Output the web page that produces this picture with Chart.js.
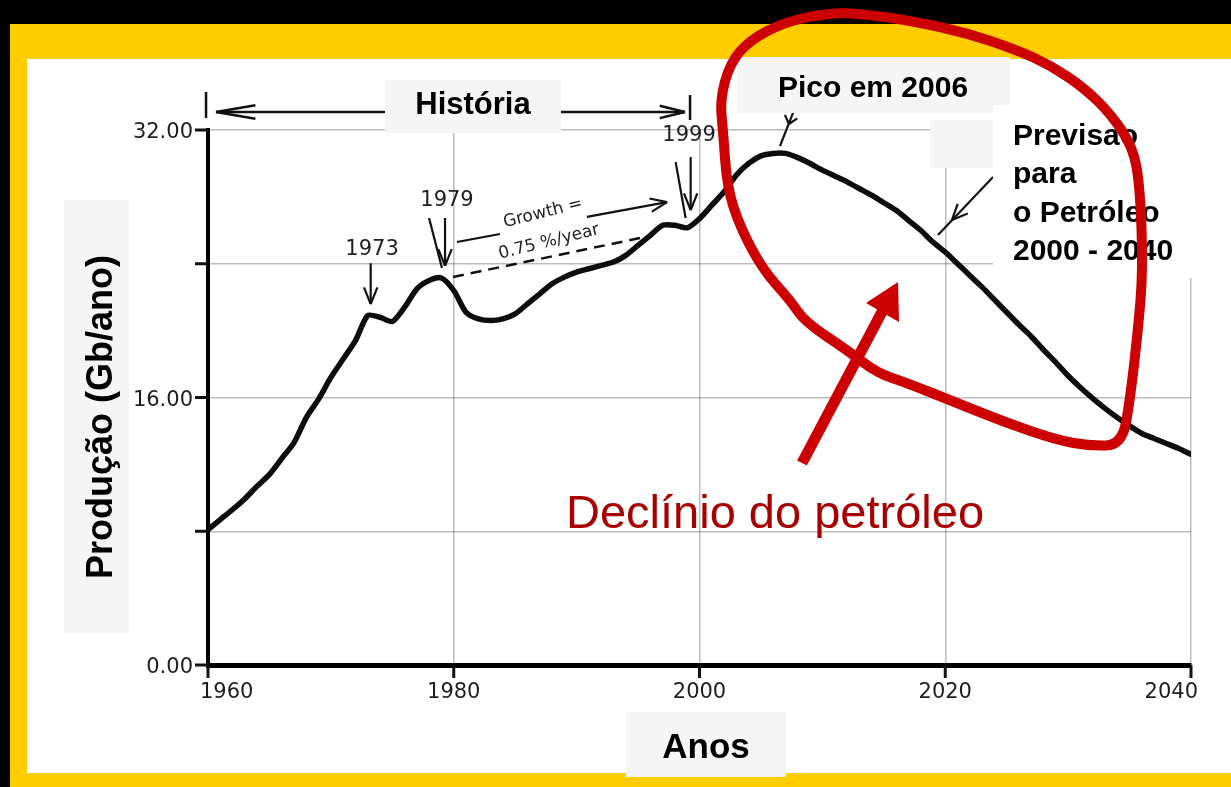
<!DOCTYPE html>
<html>
<head>
<meta charset="utf-8">
<script src="https://cdn.jsdelivr.net/npm/chart.js@4.4.1/dist/chart.umd.min.js"></script>
<style>
  html, body { margin: 0; padding: 0; background: #000; overflow: hidden; }
  canvas { display: block; }
</style>
</head>
<body>
<canvas id="oilChart" width="1231" height="787"></canvas>
<script>
// --- data ---
const years = [
  1960, 1961, 1962, 1963, 1964, 1965, 1966, 1967, 1968, 1969,
  1970, 1971, 1972, 1973, 1974, 1975, 1976, 1977, 1978, 1979,
  1980, 1981, 1982, 1983, 1984, 1985, 1986, 1987, 1988, 1989,
  1990, 1991, 1992, 1993, 1994, 1995, 1996, 1997, 1998, 1999,
  2000, 2001, 2002, 2003, 2004, 2005, 2006, 2007, 2008, 2009,
  2010, 2011, 2012, 2013, 2014, 2015, 2016, 2017, 2018, 2019,
  2020, 2021, 2022, 2023, 2024, 2025, 2026, 2027, 2028, 2029,
  2030, 2031, 2032, 2033, 2034, 2035, 2036, 2037, 2038, 2039,
  2040
];
const production = [
  8.1, 8.7, 9.3, 9.95, 10.7, 11.4, 12.35, 13.3, 14.8, 15.9,
  17.2, 18.3, 19.4, 20.9, 20.8, 20.55, 21.4, 22.5, 23.0, 23.15,
  22.4, 21.1, 20.7, 20.6, 20.7, 21.0, 21.6, 22.2, 22.8, 23.2,
  23.5, 23.7, 23.9, 24.1, 24.5, 25.1, 25.7, 26.3, 26.3, 26.15,
  26.7, 27.5, 28.3, 29.3, 30.0, 30.45, 30.6, 30.6, 30.35, 30.0,
  29.6, 29.25, 28.9, 28.5, 28.1, 27.65, 27.2, 26.6, 26.0, 25.3,
  24.7, 24.0, 23.3, 22.6, 21.85, 21.1, 20.35, 19.65, 18.85, 18.1,
  17.3, 16.6, 15.95, 15.35, 14.8, 14.3, 13.85, 13.55, 13.25, 12.95,
  12.6
];
const xTickYears = [1960, 1980, 2000, 2020, 2040];
const yTickValues = [0, 8, 16, 24, 32];
const yLabelledValues = [0, 16, 32];
const eventYears = ["1973", "1979", "1999"];
const growthText = ["Growth =", "0.75 %/year"];

// --- scan annotations, in data coordinates (year, Gb) ---
const eventLabelPos = [[1973.35, 24.82], [1979.45, 27.81], [1999.15, 31.64]];
const scanLines = [
  // [from, to, arrow head?]
  [[1973.24, 24.03], [1973.24, 21.59], true],
  [[1979.29, 26.74], [1979.29, 23.87], true],
  [[1977.99, 26.74], [1979.04, 23.75], false],
  [[1999.28, 30.38], [1999.28, 27.21], true],
  [[1998.06, 30.08], [1998.87, 26.74], false],
  [[1980.26, 25.30], [1983.76, 25.78], false],
  [[1990.84, 26.80], [1997.36, 27.69], true],
  [[2007.77, 33.32], [2006.55, 31.04], false],
  [[2023.89, 29.19], [2019.41, 25.72], false]
];
const growthDash = [[1979.94, 23.21], [1995.16, 25.54]];

const ctx = document.getElementById("oilChart").getContext("2d");

function line(c, a, b){ c.beginPath(); c.moveTo(a[0], a[1]); c.lineTo(b[0], b[1]); c.stroke(); }
function barbs(c, tip, from, len, ang){
  const a = Math.atan2(tip[1] - from[1], tip[0] - from[0]);
  for (const s of [-1, 1]) {
    c.beginPath();
    c.moveTo(tip[0], tip[1]);
    c.lineTo(tip[0] - len * Math.cos(a + s * ang), tip[1] - len * Math.sin(a + s * ang));
    c.stroke();
  }
}
function box(c, x, y, w, h, fill){ c.fillStyle = fill; c.fillRect(x, y, w, h); }

const slidePlugin = {
  id: "slide",
  beforeDraw(chart){
    const c = chart.ctx;
    c.save();
    box(c, 0, 0, 1231, 787, "#000");
    box(c, 10, 24, 1221, 763, "#ffcc00");
    box(c, 27, 59, 1204, 714, "#ffffff");
    c.restore();
  },
  afterDraw(chart){
    const c = chart.ctx, xs = chart.scales.x, ys = chart.scales.y;
    const P = (p) => [xs.getPixelForValue(p[0]), ys.getPixelForValue(p[1])];
    const area = chart.chartArea;
    c.save();

    // tick marks
    c.strokeStyle = "#111";
    c.lineWidth = 3;
    yTickValues.forEach(v => { const y = ys.getPixelForValue(v); line(c, [area.left - 13, y], [area.left, y]); });
    xTickYears.forEach(v => { const x = xs.getPixelForValue(v); line(c, [x, area.bottom], [x, area.bottom + 13]); });

    // tick labels
    c.fillStyle = "#1e1e1e";
    c.font = "21px 'DejaVu Sans'";
    c.textBaseline = "middle";
    c.textAlign = "right";
    yLabelledValues.forEach(v => c.fillText(v.toFixed(2), area.left - 15, ys.getPixelForValue(v) + 3));
    xTickYears.forEach((v, i) => {
      const x = xs.getPixelForValue(v);
      c.textAlign = i === 0 ? "left" : (i === xTickYears.length - 1 ? "right" : "center");
      c.fillText(String(v), i === 0 ? x - 8 : (i === xTickYears.length - 1 ? x + 7 : x), area.bottom + 28);
    });

    // history bracket (above the plot)
    c.strokeStyle = "#111";
    c.lineWidth = 2.5;
    line(c, P([1959.84, 34.27]), P([1959.84, 32.72]));
    line(c, P([1999.23, 34.09]), P([1999.23, 32.60]));
    line(c, P([1960.65, 33.08]), P([1998.82, 33.08]));
    barbs(c, P([1960.65, 33.08]), P([1974, 33.08]), 40, 0.17);
    barbs(c, P([1998.82, 33.08]), P([1990, 33.08]), 26, 0.24);

    // event arrows and growth marks
    c.lineWidth = 2.2;
    scanLines.forEach(([a, b, head]) => {
      const pa = P(a), pb = P(b);
      line(c, pa, pb);
      if (head) barbs(c, pb, pa, 18, 0.38);
    });
    // pico fork + forecast arrow head
    barbs(c, P([2007.28, 32.36]), P([2007.77, 33.6]), 10, 0.7);
    barbs(c, P([2020.55, 26.62]), P([2023.89, 29.19]), 17, 0.42);

    c.lineWidth = 2.5;
    c.setLineDash([11, 7]);
    line(c, P(growthDash[0]), P(growthDash[1]));
    c.setLineDash([]);

    c.fillStyle = "#1e1e1e";
    c.font = "21px 'DejaVu Sans'";
    c.textAlign = "center";
    c.textBaseline = "middle";
    eventYears.forEach((t, i) => { const p = P(eventLabelPos[i]); c.fillText(t, p[0], p[1]); });
    c.font = "17px 'DejaVu Sans'";
    [[1987.26, 27.03], [1987.75, 25.30]].forEach((pos, i) => {
      const p = P(pos);
      c.save(); c.translate(p[0], p[1]); c.rotate(-14 * Math.PI / 180);
      c.fillText(growthText[i], 0, 0);
      c.restore();
    });

    // slide text boxes
    box(c, 385, 80, 176, 53, "#f5f5f5");
    box(c, 737, 57, 273, 56, "#f5f5f5");
    box(c, 930, 120, 63, 48, "#f5f5f5");
    box(c, 993, 105, 204, 173, "#ffffff");
    box(c, 64, 200, 65, 433, "#f5f5f5");
    box(c, 626, 712, 160, 65, "#f5f5f5");

    c.fillStyle = "#000";
    c.textBaseline = "alphabetic";
    c.textAlign = "center";
    c.font = "bold 31px 'Liberation Sans', Arial, sans-serif";
    c.fillText("História", 473, 114);
    c.font = "bold 30px 'Liberation Sans', Arial, sans-serif";
    c.fillText("Pico em 2006", 873, 97);
    c.font = "bold 35px 'Liberation Sans', Arial, sans-serif";
    c.fillText("Anos", 706, 758);
    c.textAlign = "left";
    c.font = "bold 30px 'Liberation Sans', Arial, sans-serif";
    ["Previsao", "para", "o Petróleo", "2000 - 2040"].forEach((t, i) => c.fillText(t, 1013, [145, 183, 222, 260][i]));

    c.save();
    c.translate(112, 417);
    c.rotate(-Math.PI / 2);
    c.textAlign = "center";
    c.font = "bold 36px 'Liberation Sans', Arial, sans-serif";
    c.fillText("Produção (Gb/ano)", 0, 0);
    c.restore();

    // red hand-drawn loop
    const loop = [[843,13],[873,15],[917,22],[967,33],[1017,50],[1050,65],[1083,87],[1110,113],[1133,147],
      [1140,187],[1143,270],[1138,330],[1130,400],[1122,445],[1090,446],[1057,440],[1007,423],[957,403],
      [907,383],[877,373],[847,350],[805,322],[790,300],[763,270],[740,227],[727,187],[723,130],[720,100],
      [730,63],[750,40],[783,23],[817,15],[843,13]];
    c.strokeStyle = "#cc0000";
    c.lineWidth = 10;
    c.lineJoin = "round";
    c.lineCap = "round";
    c.beginPath();
    c.moveTo(loop[0][0], loop[0][1]);
    for (let i = 1; i < loop.length - 1; i++) {
      const mx = (loop[i][0] + loop[i + 1][0]) / 2, my = (loop[i][1] + loop[i + 1][1]) / 2;
      c.quadraticCurveTo(loop[i][0], loop[i][1], mx, my);
    }
    c.lineTo(loop[loop.length - 1][0], loop[loop.length - 1][1]);
    c.stroke();

    // red arrow
    c.lineCap = "butt";
    c.lineWidth = 11;
    line(c, [802, 463], [884, 308]);
    c.fillStyle = "#cc0000";
    c.beginPath();
    c.moveTo(898, 282); c.lineTo(866, 303); c.lineTo(899, 322); c.closePath();
    c.fill();

    c.fillStyle = "#a80000";
    c.font = "47px 'Liberation Sans', Arial, sans-serif";
    c.textAlign = "left";
    c.fillText("Declínio do petróleo", 566, 528);

    c.restore();
  }
};

const chart = new Chart(ctx, {
  type: "line",
  data: {
    datasets: [{
      label: "Produção",
      data: years.map((y, i) => ({ x: y, y: production[i] })),
      borderColor: "#0d0d0d",
      borderWidth: 5.5,
      pointRadius: 0,
      tension: 0.25,
      borderJoinStyle: "round",
      borderCapStyle: "round"
    }]
  },
  options: {
    responsive: false,
    animation: false,
    devicePixelRatio: 1,
    layout: { padding: { left: 208, right: 40, top: 130, bottom: 122 } },
    plugins: { legend: { display: false }, tooltip: { enabled: false } },
    scales: {
      x: {
        type: "linear", min: 1960, max: 2040,
        ticks: { stepSize: 20, display: false },
        grid: { color: "rgba(0,0,0,.26)", lineWidth: 1.5, drawTicks: false },
        border: { display: true, color: "#000", width: 5 }
      },
      y: {
        min: 0, max: 32,
        ticks: { stepSize: 8, display: false },
        grid: { color: "rgba(0,0,0,.26)", lineWidth: 1.5, drawTicks: false },
        border: { display: true, color: "#000", width: 4 }
      }
    }
  },
  plugins: [slidePlugin]
});
</script>
</body>
</html>
